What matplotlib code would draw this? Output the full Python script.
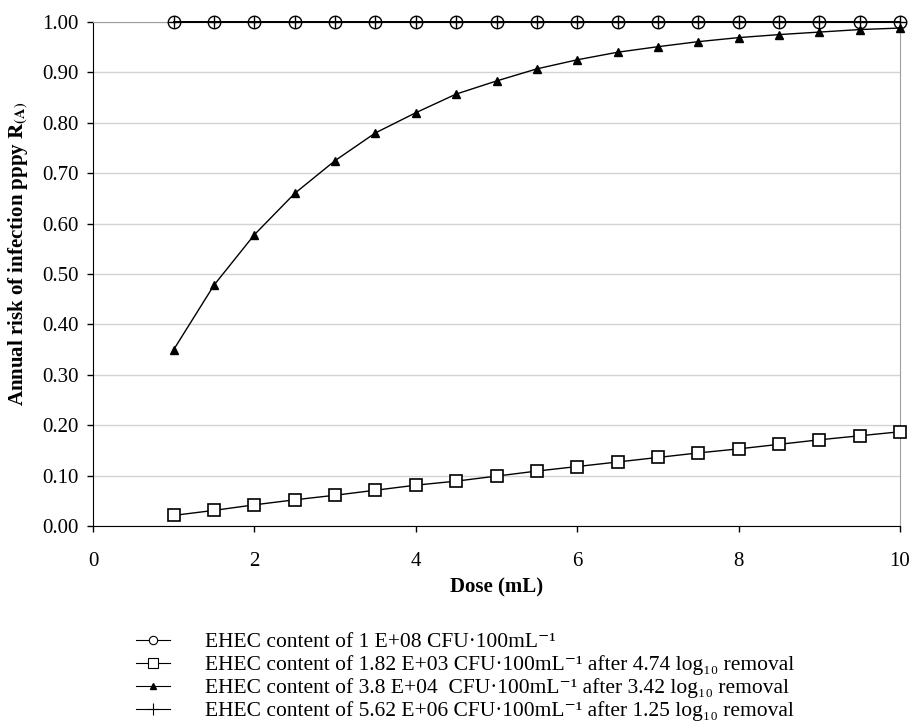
import numpy as np
import matplotlib.pyplot as plt
from matplotlib.lines import Line2D

plt.rcParams['font.family'] = ['Liberation Serif', 'DejaVu Serif']
plt.rcParams['mathtext.fontset'] = 'stix'

# Dose values (mL)
dose = [1, 1.5, 2, 2.5, 3, 3.5, 4, 4.5, 5, 5.5, 6, 6.5, 7, 7.5, 8, 8.5, 9, 9.5, 10]

# Annual risk for each EHEC content
risk_1e8 = [1.0] * 19
risk_182e3 = [0.021, 0.031, 0.042, 0.052, 0.061, 0.071, 0.081, 0.089, 0.099, 0.109,
              0.118, 0.127, 0.136, 0.145, 0.153, 0.162, 0.171, 0.179, 0.187]
risk_38e4 = [0.350, 0.478, 0.578, 0.660, 0.725, 0.780, 0.820, 0.857, 0.883, 0.907,
             0.925, 0.940, 0.951, 0.961, 0.969, 0.975, 0.980, 0.985, 0.988]
risk_562e6 = [1.0] * 19

labels = [
    'EHEC content of 1 E+08 CFU\u00b7100mL\u207b\u00b9',
    'EHEC content of 1.82 E+03 CFU\u00b7100mL\u207b\u00b9 after 4.74 log\u2081\u2080 removal',
    'EHEC content of 3.8 E+04  CFU\u00b7100mL\u207b\u00b9 after 3.42 log\u2081\u2080 removal',
    'EHEC content of 5.62 E+06 CFU\u00b7100mL\u207b\u00b9 after 1.25 log\u2081\u2080 removal',
]

fig = plt.figure(figsize=(9.14, 7.25), dpi=100)
ax = fig.add_axes([93 / 914, 1 - 526 / 725, 807 / 914, 504 / 725])

# Plot the series
ax.plot(dose, risk_1e8, color='black', lw=1.4, marker='o', markersize=9,
        markerfacecolor='white', markeredgecolor='black', markeredgewidth=1,
        zorder=3, clip_on=False)
ax.plot(dose, risk_182e3, color='black', lw=1.0, marker='s', markersize=9,
        markerfacecolor='white', markeredgecolor='black', markeredgewidth=1.2,
        zorder=3, clip_on=False)
ax.plot(dose, risk_38e4, color='black', lw=1.0, marker='^', markersize=6,
        markerfacecolor='black', markeredgecolor='black', zorder=3, clip_on=False)
ax.plot(dose, risk_562e6, color='black', lw=1.4, marker='+', markersize=9,
        markeredgewidth=1, zorder=4, clip_on=False)

ax.set_xlim(0, 10)
ax.set_ylim(0, 1)
ax.set_xticks(np.arange(0, 11, 2))
ax.set_yticks(np.arange(0, 1.01, 0.1))
ax.set_yticklabels(['%.2f' % v for v in np.arange(0, 1.01, 0.1)])
ax.tick_params(axis='both', labelsize=15, direction='out', length=4.5, width=1)
ax.tick_params(axis='x', pad=14)
ax.tick_params(axis='y', pad=6)
ax.grid(axis='y', color='#d4d4d4', lw=1)
ax.set_axisbelow(True)

for side in ['top', 'right']:
    ax.spines[side].set_color('#a0a0a0')
for side in ['left', 'bottom']:
    ax.spines[side].set_color('black')

ax.set_xlabel('Dose (mL)', fontsize=15, fontweight='bold', labelpad=5)
ax.set_ylabel(r'Annual risk of infection pppy $\mathbf{R}_{\mathbf{(A)}}$',
              fontsize=15, fontweight='bold')
ax.yaxis.set_label_coords(-0.078, 0.54)

# Legend below the chart
handles = [
    Line2D([], [], color='black', lw=0.8, marker='o', markersize=6,
           markerfacecolor='white', markeredgewidth=0.8),
    Line2D([], [], color='black', lw=0.8, marker='s', markersize=7,
           markerfacecolor='white', markeredgewidth=0.8),
    Line2D([], [], color='black', lw=0.8, marker='^', markersize=5,
           markerfacecolor='black'),
    Line2D([], [], color='black', lw=0.8, marker='+', markersize=8,
           markeredgewidth=0.8),
]
fig.legend(handles, labels, loc='upper left', bbox_to_anchor=(136 / 914, 1 - 632 / 725),
           frameon=False, fontsize=15.5, handlelength=1.6, handletextpad=1.6,
           labelspacing=0.14, borderaxespad=0, borderpad=0)

plt.savefig('out.png', dpi=100)
